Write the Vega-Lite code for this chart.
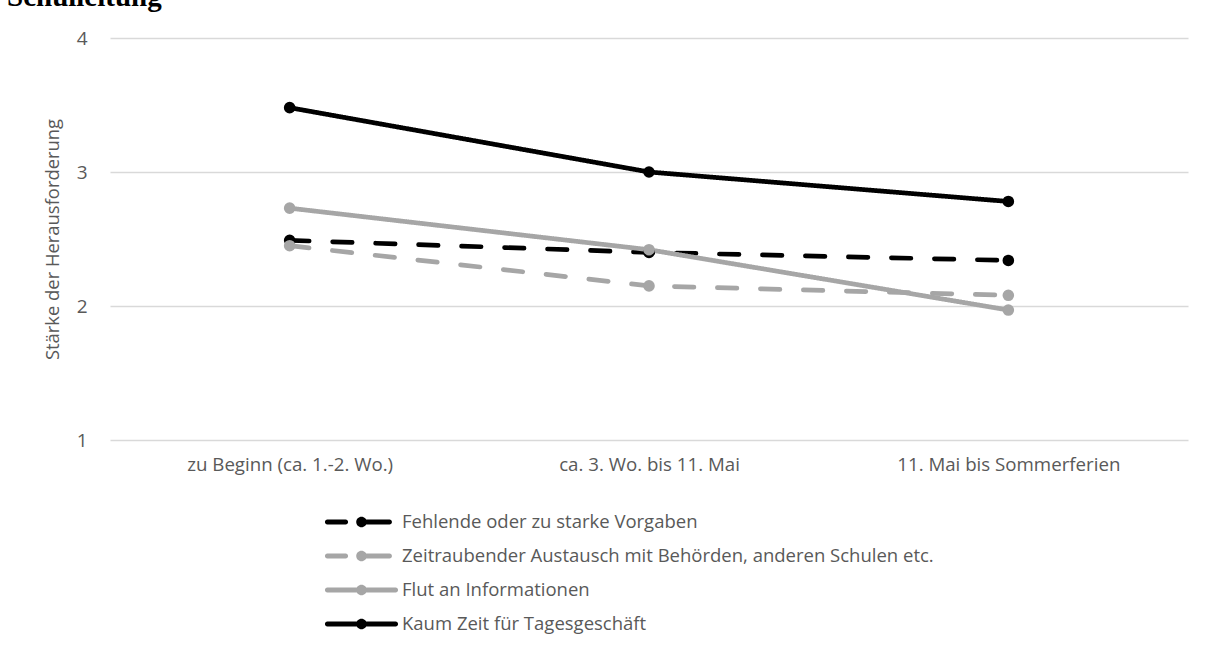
{
  "$schema": "https://vega.github.io/schema/vega-lite/v6.json",
  "width": 1078,
  "height": 402,
  "autosize": {"type": "none"},
  "padding": {"left": 110, "top": 38, "right": 26, "bottom": 205},
  "background": "white",
  "title": {
    "text": "Schulleitung",
    "anchor": "start",
    "frame": "group",
    "orient": "top",
    "font": "Liberation Serif",
    "fontWeight": "bold",
    "fontSize": 29,
    "color": "#000000",
    "baseline": "alphabetic",
    "offset": 0,
    "dx": -103,
    "dy": 6
  },
  "data": {
    "values": [
      {"serie": "Fehlende oder zu starke Vorgaben", "phase": "zu Beginn (ca. 1.-2. Wo.)", "wert": 2.49},
      {"serie": "Fehlende oder zu starke Vorgaben", "phase": "ca. 3. Wo. bis 11. Mai", "wert": 2.40},
      {"serie": "Fehlende oder zu starke Vorgaben", "phase": "11. Mai bis Sommerferien", "wert": 2.34},
      {"serie": "Zeitraubender Austausch mit Behörden, anderen Schulen etc.", "phase": "zu Beginn (ca. 1.-2. Wo.)", "wert": 2.45},
      {"serie": "Zeitraubender Austausch mit Behörden, anderen Schulen etc.", "phase": "ca. 3. Wo. bis 11. Mai", "wert": 2.15},
      {"serie": "Zeitraubender Austausch mit Behörden, anderen Schulen etc.", "phase": "11. Mai bis Sommerferien", "wert": 2.08},
      {"serie": "Flut an Informationen", "phase": "zu Beginn (ca. 1.-2. Wo.)", "wert": 2.73},
      {"serie": "Flut an Informationen", "phase": "ca. 3. Wo. bis 11. Mai", "wert": 2.42},
      {"serie": "Flut an Informationen", "phase": "11. Mai bis Sommerferien", "wert": 1.97},
      {"serie": "Kaum Zeit für Tagesgeschäft", "phase": "zu Beginn (ca. 1.-2. Wo.)", "wert": 3.48},
      {"serie": "Kaum Zeit für Tagesgeschäft", "phase": "ca. 3. Wo. bis 11. Mai", "wert": 3.00},
      {"serie": "Kaum Zeit für Tagesgeschäft", "phase": "11. Mai bis Sommerferien", "wert": 2.78}
    ]
  },
  "encoding": {
    "x": {
      "field": "phase",
      "type": "nominal",
      "sort": null,
      "scale": {"type": "point", "padding": 0.5},
      "axis": {
        "title": null,
        "labelAngle": 0,
        "labelFont": "Open Sans",
        "labelFontSize": 18.7,
        "labelColor": "#595959",
        "labelPadding": 15,
        "labelLimit": 400,
        "ticks": false,
        "domain": false,
        "grid": false
      }
    },
    "y": {
      "field": "wert",
      "type": "quantitative",
      "scale": {"domain": [1, 4], "nice": false, "zero": false},
      "axis": {
        "title": "Stärke der Herausforderung",
        "titleFont": "Open Sans",
        "titleFontSize": 18.4,
        "titleFontWeight": "normal",
        "titleColor": "#595959",
        "titlePadding": 14,
        "values": [1, 2, 3, 4],
        "format": "d",
        "labelFont": "Open Sans",
        "labelFontSize": 19,
        "labelColor": "#595959",
        "labelPadding": 23,
        "ticks": false,
        "domain": false,
        "grid": true,
        "gridColor": "#d9d9d9",
        "gridWidth": 1.5
      }
    },
    "color": {
      "field": "serie",
      "type": "nominal",
      "sort": null,
      "scale": {
        "domain": [
          "Fehlende oder zu starke Vorgaben",
          "Zeitraubender Austausch mit Behörden, anderen Schulen etc.",
          "Flut an Informationen",
          "Kaum Zeit für Tagesgeschäft"
        ],
        "range": ["#000000", "#a6a6a6", "#a6a6a6", "#000000"]
      },
      "legend": {
        "title": null,
        "orient": "none",
        "legendX": 234.5,
        "legendY": 467,
        "direction": "vertical",
        "padding": 0,
        "rowPadding": 7,
        "symbolSize": 1156,
        "symbolType": "M-2.01,-0.14H2.01A0.14,0.14 0 0,1 2.01,0.14H-2.01A0.14,0.14 0 0,1 -2.01,-0.14Z M0.31,0A0.31,0.31 0 1,1 -0.31,0A0.31,0.31 0 1,1 0.31,0Z",
        "symbolStrokeWidth": 0,
        "symbolOpacity": 1,
        "labelOffset": 23.5,
        "labelFont": "Open Sans",
        "labelFontSize": 18.5,
        "labelColor": "#595959",
        "labelLimit": 700,
        "encode": {
          "symbols": {
            "update": {
              "fill": {"scale": "color", "field": "value"},
              "strokeWidth": {"value": 0},
              "shape": {
                "signal": "indexof(['Fehlende oder zu starke Vorgaben', 'Zeitraubender Austausch mit Behörden, anderen Schulen etc.'], datum.value) >= 0 ? 'M-2.01,-0.14H-0.93A0.14,0.14 0 0,1 -0.93,0.14H-2.01A0.14,0.14 0 0,1 -2.01,-0.14Z M0,-0.14H1.65A0.14,0.14 0 0,1 1.65,0.14H0Z M0.31,0A0.31,0.31 0 1,1 -0.31,0A0.31,0.31 0 1,1 0.31,0Z' : 'M-2.01,-0.14H2.01A0.14,0.14 0 0,1 2.01,0.14H-2.01A0.14,0.14 0 0,1 -2.01,-0.14Z M0.31,0A0.31,0.31 0 1,1 -0.31,0A0.31,0.31 0 1,1 0.31,0Z'"
              }
            }
          }
        }
      }
    }
  },
  "layer": [
    {
      "mark": {"type": "line", "strokeWidth": 4.7, "strokeCap": "round", "strokeJoin": "round"},
      "encoding": {
        "strokeDash": {
          "field": "serie",
          "type": "nominal",
          "sort": null,
          "scale": {
            "domain": [
              "Fehlende oder zu starke Vorgaben",
              "Zeitraubender Austausch mit Behörden, anderen Schulen etc.",
              "Flut an Informationen",
              "Kaum Zeit für Tagesgeschäft"
            ],
            "range": [[19.5, 23.5], [19.5, 23.5], [1, 0], [1, 0]]
          },
          "legend": null
        }
      }
    },
    {
      "mark": {"type": "point", "filled": true, "opacity": 1, "size": 135, "shape": "circle"}
    }
  ],
  "config": {
    "view": {"stroke": null}
  }
}
